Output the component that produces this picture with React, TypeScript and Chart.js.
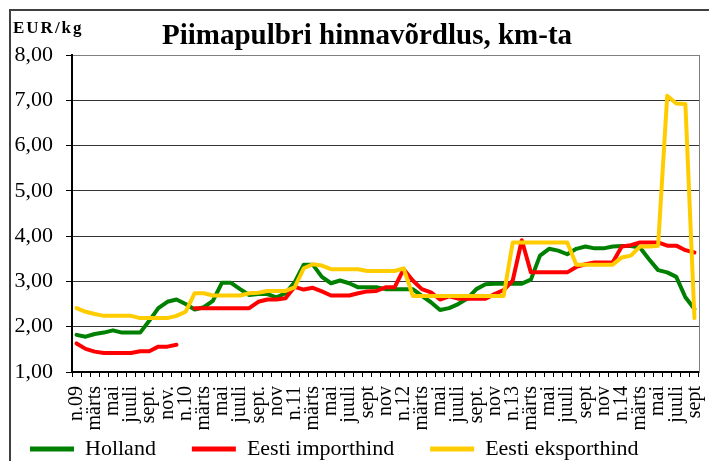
import React, { useEffect, useRef } from 'react';
import { Chart, registerables } from 'chart.js';

Chart.register(...registerables);

const TITLE = 'Piimapulbri hinnavõrdlus, km-ta';
const UNIT = 'EUR/kg';

const months = [
  '2009-01', '2009-02', '2009-03', '2009-04', '2009-05', '2009-06', '2009-07', '2009-08', '2009-09', '2009-10', '2009-11', '2009-12',
  '2010-01', '2010-02', '2010-03', '2010-04', '2010-05', '2010-06', '2010-07', '2010-08', '2010-09', '2010-10', '2010-11', '2010-12',
  '2011-01', '2011-02', '2011-03', '2011-04', '2011-05', '2011-06', '2011-07', '2011-08', '2011-09', '2011-10', '2011-11', '2011-12',
  '2012-01', '2012-02', '2012-03', '2012-04', '2012-05', '2012-06', '2012-07', '2012-08', '2012-09', '2012-10', '2012-11', '2012-12',
  '2013-01', '2013-02', '2013-03', '2013-04', '2013-05', '2013-06', '2013-07', '2013-08', '2013-09', '2013-10', '2013-11', '2013-12',
  '2014-01', '2014-02', '2014-03', '2014-04', '2014-05', '2014-06', '2014-07', '2014-08', '2014-09',
];

const tickLabels = [
  'n.09', 'märts', 'mai', 'juuli', 'sept.', 'nov.',
  'n.10', 'märts', 'mai', 'juuli', 'sept.', 'nov',
  'n.11', 'märts', 'mai', 'juuli', 'sept', 'nov',
  'n.12', 'märts', 'mai', 'juuli', 'sept.', 'nov',
  'n.13', 'märts', 'mai', 'juuli', 'sept', 'nov',
  'n.14', 'märts', 'mai', 'juuli', 'sept',
];

const holland = [
  1.82, 1.78, 1.84, 1.87, 1.92, 1.87, 1.87, 1.87, 2.13, 2.41, 2.55, 2.60,
  2.50, 2.38, 2.43, 2.57, 2.97, 2.97, 2.83, 2.70, 2.72, 2.72, 2.65, 2.74,
  2.98, 3.37, 3.37, 3.10, 2.96, 3.02, 2.96, 2.87, 2.87, 2.87, 2.83, 2.83,
  2.83, 2.83, 2.68, 2.54, 2.37, 2.41, 2.50, 2.62, 2.83, 2.94, 2.95, 2.95,
  2.95, 2.95, 3.04, 3.57, 3.72, 3.68, 3.60, 3.72, 3.77, 3.73, 3.73, 3.77,
  3.78, 3.78, 3.75, 3.49, 3.25, 3.20, 3.10, 2.65, 2.39,
];

const importPrice = [
  1.63, 1.51, 1.45, 1.42, 1.42, 1.42, 1.42, 1.46, 1.46, 1.56, 1.56, 1.60,
  null, 2.41, 2.41, 2.41, 2.41, 2.41, 2.41, 2.41, 2.55, 2.60, 2.60, 2.63,
  2.88, 2.82, 2.86, 2.78, 2.69, 2.69, 2.69, 2.74, 2.78, 2.79, 2.87, 2.87,
  3.27, 3.02, 2.83, 2.76, 2.60, 2.67, 2.62, 2.62, 2.62, 2.62, 2.72, 2.81,
  3.02, 3.91, 3.20, 3.20, 3.20, 3.20, 3.20, 3.32, 3.38, 3.42, 3.42, 3.42,
  3.77, 3.80, 3.86, 3.86, 3.86, 3.79, 3.79, 3.69, 3.64,
];

const exportPrice = [
  2.41, 2.33, 2.28, 2.24, 2.24, 2.24, 2.24, 2.19, 2.19, 2.19, 2.19, 2.24,
  2.33, 2.74, 2.74, 2.69, 2.69, 2.69, 2.69, 2.74, 2.75, 2.79, 2.79, 2.79,
  2.87, 3.29, 3.38, 3.35, 3.27, 3.27, 3.27, 3.27, 3.23, 3.23, 3.23, 3.23,
  3.29, 2.68, 2.68, 2.68, 2.68, 2.68, 2.68, 2.68, 2.68, 2.68, 2.68, 2.68,
  3.86, 3.86, 3.86, 3.86, 3.86, 3.86, 3.86, 3.37, 3.37, 3.37, 3.37, 3.37,
  3.53, 3.57, 3.77, 3.77, 3.79, 7.10, 6.93, 6.92, 2.19,
];

const seriesNames = ['Holland', 'Eesti importhind', 'Eesti eksporthind'];
const seriesColors = ['#008000', '#ff0000', '#ffcc00'];

const FONT = '"Liberation Serif", "Times New Roman", serif';
const LEGEND_TOP = 402;
const CANVAS_H = 461;

const textPlugin = {
  id: 'chartTexts',
  afterLayout(chart: any) {
    const lg = chart.legend;
    if (lg) {
      lg.top = LEGEND_TOP;
      lg.bottom = CANVAS_H;
      lg.height = CANVAS_H - LEGEND_TOP;
    }
  },
  afterDraw(chart: any) {
    const ctx = chart.ctx as CanvasRenderingContext2D;
    ctx.save();
    ctx.fillStyle = '#000';
    ctx.textBaseline = 'alphabetic';
    ctx.font = `bold 29px ${FONT}`;
    ctx.textAlign = 'center';
    ctx.fillText(TITLE, 367, 44);
    ctx.font = `bold 17px ${FONT}`;
    ctx.textAlign = 'left';
    (ctx as any).letterSpacing = '2px';
    ctx.fillText(UNIT, 13, 33);
    (ctx as any).letterSpacing = '0px';
    ctx.restore();
  },
};

export default function App() {
  const ref = useRef<HTMLCanvasElement | null>(null);

  useEffect(() => {
    if (!ref.current) return;
    const values = [holland, importPrice, exportPrice];
    const chart = new Chart(ref.current, {
      type: 'line',
      data: {
        labels: months,
        datasets: values.map((v, i) => ({
          label: seriesNames[i],
          data: v,
          borderColor: seriesColors[i],
          backgroundColor: seriesColors[i],
          borderWidth: 4,
          pointRadius: 0,
          pointHoverRadius: 0,
          tension: 0,
          fill: false,
          spanGaps: false,
          borderJoinStyle: 'round',
          borderCapStyle: 'round',
          order: 2 - i,
        })),
      },
      options: {
        animation: false,
        responsive: false,
        devicePixelRatio: 1,
        events: [],
        layout: { padding: { left: -6, right: 10, top: 55, bottom: 0 } },
        plugins: {
          title: { display: false },
          tooltip: { enabled: false },
          legend: {
            position: 'bottom',
            align: 'start',
            maxHeight: 26,
            labels: {
              boxWidth: 44,
              boxHeight: 5,
              padding: 36,
              color: '#000',
              font: { family: FONT, size: 22 },
              generateLabels: (c: any) =>
                (Chart.defaults.plugins.legend.labels.generateLabels as any)(c)
                  .map((l: any) => ({ ...l, lineWidth: 0, fillStyle: l.strokeStyle }))
                  .sort((a: any, b: any) => a.datasetIndex - b.datasetIndex),
            },
          },
        },
        scales: {
          x: {
            type: 'category',
            offset: true,
            grid: {
              offset: true,
              drawOnChartArea: false,
              drawTicks: true,
              tickLength: 5,
              color: '#000',
              tickColor: '#000',
            },
            border: { display: true, color: '#000', width: 2 },
            ticks: {
              autoSkip: false,
              minRotation: 90,
              maxRotation: 90,
              padding: 9,
              color: '#000',
              font: { family: FONT, size: 20, lineHeight: 0.2 },
              callback: (_v: any, i: number) => (i % 2 === 0 ? tickLabels[i / 2] : ''),
            },
            afterFit: (s: any) => {
              s.height = 63;
            },
          },
          y: {
            min: 1,
            max: 8,
            ticks: {
              stepSize: 1,
              padding: 13,
              color: '#000',
              font: { family: FONT, size: 22 },
              callback: (v: any) => Number(v).toFixed(2).replace('.', ','),
            },
            grid: {
              color: (c: any) => (c.tick && c.tick.value === 8 ? '#808080' : '#333333'),
              tickColor: '#000',
              lineWidth: 1,
              tickLength: 6,
              drawTicks: true,
            },
            border: { color: '#000', width: 2 },
            afterFit: (s: any) => {
              s.width = 78;
            },
          },
          y2: {
            position: 'right',
            min: 1,
            max: 8,
            display: true,
            ticks: { display: false },
            grid: { drawOnChartArea: false, drawTicks: false },
            border: { display: true, color: '#808080', width: 1 },
            afterFit: (s: any) => {
              s.width = 0;
            },
          },
        },
      } as any,
      plugins: [textPlugin],
    });
    return () => chart.destroy();
  }, []);

  return (
    <div style={{ position: 'fixed', left: 0, top: 0, width: 709, height: 461, overflow: 'hidden', background: '#fff' }}>
      <div
        style={{
          position: 'absolute',
          left: 9,
          top: 9,
          width: 800,
          height: 600,
          border: '2px solid #404040',
        }}
      />
      <canvas ref={ref} width={709} height={461} style={{ position: 'absolute', left: 0, top: 0, width: 709, height: 461 }} />
    </div>
  );
}
